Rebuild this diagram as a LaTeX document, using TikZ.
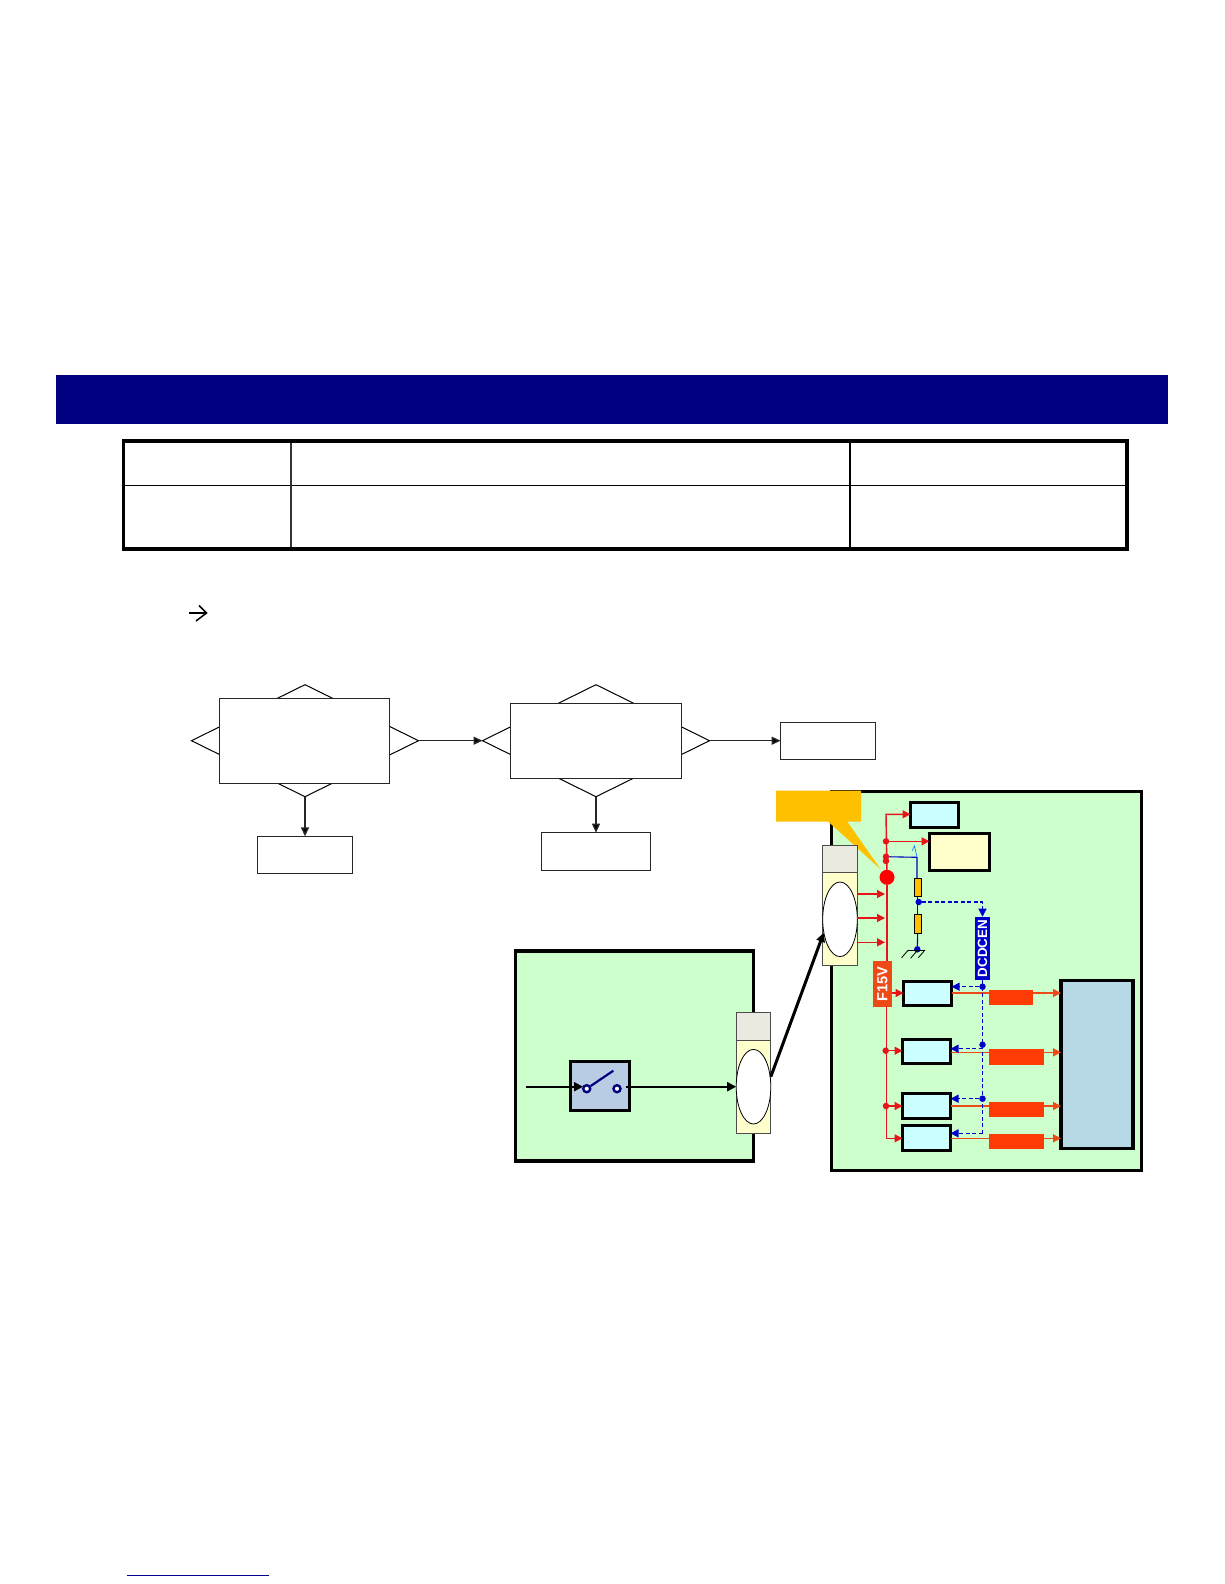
\documentclass[tikz,border=0pt]{standalone}
\usepackage{fontspec}
\setmainfont{Liberation Sans}
\usetikzlibrary{arrows.meta,shapes.geometric,calc}
\definecolor{panelgreen}{HTML}{CCFFCC}
\definecolor{navybar}{HTML}{000080}
\definecolor{callout}{HTML}{FFC000}
\definecolor{paleyellow}{HTML}{FFFFCC}
\definecolor{palecyan}{HTML}{CCFFFF}
\definecolor{conngrey}{HTML}{EAEAE0}
\definecolor{hotred}{HTML}{E8141A}
\definecolor{orangeline}{HTML}{EE4A18}
\definecolor{orangefill}{HTML}{FF3B05}
\definecolor{dcblue}{HTML}{0000CC}
\definecolor{swblue}{HTML}{B8CCE4}
\definecolor{loadblue}{HTML}{B7D9E6}
\tikzset{
  px/.style={anchor=north west,inner sep=0pt,outer sep=0pt},
  panelbox/.style={px,draw=black,line width=3.2pt,fill=panelgreen},
  flowbox/.style={px,draw=black!85,line width=1pt,fill=white},
  flowdia/.style={diamond,draw=black,line width=1pt,fill=white,inner sep=0pt,outer sep=0pt,aspect=2,minimum width=227pt,minimum height=112pt},
  ccbox/.style={px,draw=black,line width=3pt,fill=palecyan},
  yelbox/.style={px,draw=black,line width=3pt,fill=paleyellow},
  loadbox/.style={px,draw=black,line width=3.2pt,fill=loadblue},
  swbox/.style={px,draw=black,line width=3pt,fill=swblue},
  orbox/.style={px,fill=orangefill},
  resbox/.style={px,draw=black,line width=1pt,fill=callout},
  conntop/.style={px,draw=black!70,line width=1pt,fill=conngrey},
  connbody/.style={px,draw=black!70,line width=1pt,fill=paleyellow},
  connoval/.style={ellipse,draw=black,line width=.8pt,fill=white,inner sep=0pt,outer sep=0pt,minimum width=34.6pt,minimum height=74.6pt},
  reddot/.style={circle,fill=hotred,inner sep=0pt,outer sep=0pt,minimum size=6.5pt},
  bluedot/.style={circle,fill=dcblue,inner sep=0pt,outer sep=0pt,minimum size=6.5pt},
  redln/.style={draw=hotred,line width=1.4pt,-{Triangle[length=8pt,width=8pt,fill=hotred]}},
  redplain/.style={draw=hotred,line width=1.4pt},
  orln/.style={draw=orangeline,line width=1.6pt,-{Triangle[length=8pt,width=8pt,fill=orangeline]}},
  blueln/.style={draw=dcblue,line width=1.3pt,dash pattern=on 4pt off 2.5pt,-{Triangle[length=8pt,width=8pt,fill=dcblue]}},
  blueplain/.style={draw=dcblue,line width=1.3pt,dash pattern=on 4pt off 2.5pt},
  flowln/.style={draw=black!85,line width=1.4pt,-{Triangle[length=9pt,width=8pt,fill=black]}},
  blackln/.style={draw=black,line width=2pt,-{Triangle[length=9pt,width=9pt,fill=black]}},
  sigtag/.style={rotate=90,inner sep=0pt,outer sep=0pt,text=white,font=\bfseries\fontsize{13.4}{14}\selectfont},
  bigtag/.style={sigtag,font=\bfseries\fontsize{14.6}{15}\selectfont},
}
\newcommand{\rbox}[6]{\node[#2,minimum width={(#5-#3)*1pt},minimum height={(#6-#4)*1pt}] (#1) at (#3,#4) {};}
\begin{document}
\begin{tikzpicture}[x=1pt,y=-1pt]
\useasboundingbox (0,0) rectangle (1224,1584);
\fill[white] (0,0) rectangle (1224,1584);
% banner
\fill[navybar] (55.5,374.5) rectangle (1168,424);
% table
\draw[black,line width=1.5pt] (123.5,485.7) -- (1127,485.7);
\draw[black!80,line width=1.6pt] (290.7,441) -- (290.7,549);
\draw[black,line width=2pt] (850,441) -- (850,549);
\draw[black,line width=3.2pt] (123.5,441) rectangle (1127,549);
% small arrow
\draw[black,line width=1.5pt] (189,613) -- (206,613);
\draw[black,line width=1.5pt] (199,605.5) -- (206.5,613) -- (196,621);
% flow
\node[flowdia] (d1) at (305,740.7) {};
\node[flowdia] (d2) at (596,740.7) {};
\rbox{r1}{flowbox}{219.6}{698}{389.5}{783.3}
\rbox{r2}{flowbox}{510.2}{703.3}{681}{778}
\rbox{bx1}{flowbox}{257.2}{836.3}{352.3}{873.7}
\rbox{bx2}{flowbox}{541.4}{832.7}{650.3}{870}
\rbox{bx3}{flowbox}{780.6}{722}{875.7}{759.3}
\draw[flowln] (d1.east) -- (d2.west);
\draw[flowln] (d2.east) -- (bx3.west |- d2.east);
\draw[flowln] (d1.south) -- (bx1.north -| d1.south);
\draw[flowln] (d2.south) -- (bx2.north -| d2.south);
% left panel
\rbox{pl}{panelbox}{515.7}{951}{753.3}{1161}
\rbox{ct2}{conntop}{736.3}{1012.3}{770.7}{1040}
\rbox{cb2}{connbody}{736.3}{1040}{770.7}{1133.3}
\node[connoval] (ov2) at (753.5,1086.7) {};
\rbox{sw}{swbox}{570}{1061}{629.5}{1110.3}
\coordinate (inl) at (526,1086.7);
\coordinate (swin) at (583,1086.7);
\coordinate (swout) at (626,1086.7);
\draw[blackln] (inl) -- (swin);
\draw[blackln] (swout) -- (ov2.west |- swout);
\node[circle,draw=navybar,line width=2.4pt,fill=white,inner sep=0pt,minimum size=7pt] (st1) at (586.7,1088.7) {};
\node[circle,draw=navybar,line width=2.4pt,fill=white,inner sep=0pt,minimum size=7pt] (st2) at (617,1088.7) {};
\coordinate (blade) at (613.3,1070.7);
\draw[navybar,line width=2.2pt] (st1) -- (blade);
% right panel
\rbox{pr}{panelbox}{831.7}{791.7}{1141.7}{1170.7}
% callout
\fill[callout] (776,790.7) -- (861,790.7) -- (861,821.7) -- (847.3,821.7) -- (880.7,869.3) -- (828.3,821.7) -- (776,821.7) -- cycle;
% connector 1
\rbox{ct1}{conntop}{822.7}{845}{857.3}{872.7}
\rbox{cb1}{connbody}{822.7}{872.7}{857.3}{965.7}
\node[connoval] (ov1) at (840,919.3) {};
\coordinate (thA) at ($(ov2.east)+(0,-10)$);
\coordinate (thB) at ($(ov1.west)+(1,13.5)$);
\draw[draw=black,line width=3pt,-{Triangle[length=9pt,width=8.5pt,fill=black]}] (thA) -- (thB);
% boxes
\rbox{b0}{ccbox}{910.5}{802}{958}{827}
\rbox{by}{yelbox}{929.5}{833}{989.5}{870.5}
\rbox{ba}{ccbox}{903.5}{981}{951.5}{1005}
\rbox{bb}{ccbox}{902.5}{1039.5}{950.5}{1063.5}
\rbox{bc}{ccbox}{902.5}{1093.5}{950.5}{1118}
\rbox{bd}{ccbox}{902.5}{1125.5}{950.5}{1150}
\rbox{load}{loadbox}{1061}{980.5}{1133}{1148.5}
% tags
\node[bigtag,fill=orangeline,minimum width=45.4pt,minimum height=18.4pt] (f15) at (882.5,984) {F15V};
\node[sigtag,fill=dcblue,minimum width=63.6pt,minimum height=14.4pt] (dcd) at (982.5,948.5) {DCDCEN};
% red rail
\node[circle,fill=red,inner sep=0pt,outer sep=0pt,minimum size=15pt] (bigdot) at (887,877.3) {};
\node[reddot] (j1) at (886,841.3) {};
\node[reddot] (j2) at (886,856.7) {};
\node[reddot] (j3) at (886,861) {};
\node[reddot] (jb) at (885.7,1050.7) {};
\node[reddot] (jc) at (886,1106) {};
\coordinate (rtop) at (886,814.3);
\coordinate (rbot) at (886.5,1138.3);
\draw[redplain] (bigdot) -- (f15.east -| bigdot);
\draw[redln] (f15.west -| rbot) -- (rbot) -- (rbot -| bd.west);
\draw[redln] (bigdot) -- (rtop) -- (rtop -| b0.west);
\draw[redln] (j1) -- (j1 -| by.west);
\draw[redln] (jb) -- (jb -| bb.west);
\draw[redln] (jc) -- (jc -| bc.west);
\coordinate (fo) at (f15.south |- ba.west);
\draw[redln] (fo) -- (ba.west);
\coordinate (ra) at (885,894);
\coordinate (rb) at (885,918);
\coordinate (rc) at (885,942.3);
\draw[redln] (ov1.east |- ra) -- (ra);
\draw[redln] (ov1.east |- rb) -- (rb);
\draw[redln] (ov1.east |- rc) -- (rc);
% orange outputs
\coordinate (la) at (load.west |- ba.east);
\draw[orln] (ba.east) -- (la);
\coordinate (yb) at (0,1052.3);
\coordinate (yc) at (0,1106);
\coordinate (yd) at (0,1138.3);
\draw[orln] (bb.east |- yb) -- (load.west |- yb);
\draw[orln] (bc.east |- yc) -- (load.west |- yc);
\draw[orln] (bd.east |- yd) -- (load.west |- yd);
\rbox{oa}{orbox}{989}{990}{1033.3}{1005}
\rbox{ob}{orbox}{989.3}{1049.3}{1044}{1065}
\rbox{oc}{orbox}{989.3}{1102}{1044}{1117.3}
\rbox{od}{orbox}{989.3}{1134}{1044}{1149.3}
% divider
\rbox{rs1}{resbox}{914.3}{878}{921}{896.7}
\rbox{rs2}{resbox}{914.3}{914.7}{921}{933.7}
\node[bluedot] (bd1) at (918.7,902) {};
\node[bluedot] (gnd) at (917.3,949.3) {};
\coordinate (bsp) at (917,857.3);
\coordinate (tick) at (914.5,846);
\draw[blue!75!black,line width=1.1pt] (j2) -- (bsp) -- (rs1.north -| bsp);
\draw[blue!60!cyan,line width=.6pt] (bsp) -- (tick) -- (912,851);
\draw[blue!75!black,line width=1.1pt] (rs1.south) -- (rs2.north);
\draw[blue!75!black,line width=1.1pt] (rs2.south) -- (gnd);
\coordinate (ga) at (908.3,950);
\coordinate (gb) at (925,950);
\draw[black,line width=.8pt] (ga) -- (gb);
\draw[black,line width=.8pt] (ga) -- ++(-6.7,7.7);
\draw[black,line width=.8pt] (gnd.south) ++(0,-2) -- ++(-6.7,7.7);
\draw[black,line width=.8pt] (gb) -- ++(-6.7,7.7);
\draw[blueln] (bd1) -- (bd1 -| dcd.east) -- (dcd.east);
% enable
\node[bluedot] (da) at (982.5,986.7) {};
\node[bluedot] (db) at (982.5,1044.7) {};
\node[bluedot] (dc) at (982.5,1098.7) {};
\coordinate (bendb) at (982.5,1048.7);
\coordinate (bendd) at (982.5,1133.3);
\draw[blueplain] (dcd.west) -- (bendd);
\draw[blueln] (da) -- (da -| ba.east);
\draw[blueln] (bendb) -- (bendb -| bb.east);
\draw[blueln] (dc) -- (dc -| bc.east);
\draw[blueln] (bendd) -- (bendd -| bd.east);
% footer rule
\coordinate (fa) at (127.3,1575);
\coordinate (fb) at (268.7,1575);
\draw[draw=navybar!90!blue,line width=1pt] (fa) -- (fb);
\end{tikzpicture}
\end{document}
